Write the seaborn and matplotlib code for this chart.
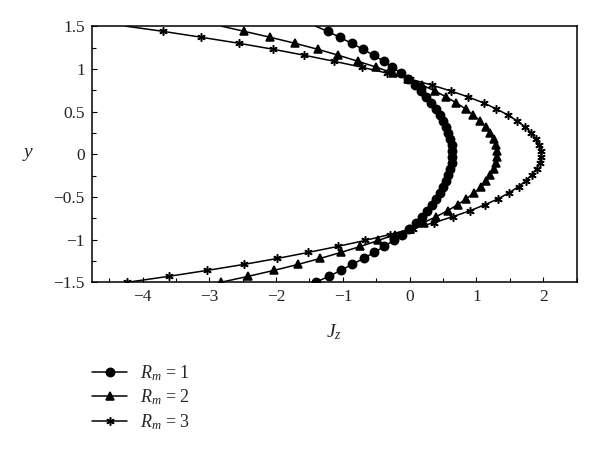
import numpy as np
import pandas as pd
import seaborn as sns
import matplotlib.pyplot as plt
from matplotlib.ticker import MultipleLocator

# valores (y de -1.5 a 1.5)
y_vals = [-1.50, -1.43, -1.36, -1.29, -1.22, -1.15, -1.08, -1.01, -0.94, -0.87,
          -0.80, -0.73, -0.66, -0.59, -0.52, -0.45, -0.38, -0.31, -0.24, -0.17,
          -0.10, -0.03, 0.04, 0.11, 0.18, 0.25, 0.32, 0.39, 0.46, 0.53,
          0.60, 0.67, 0.74, 0.81, 0.88, 0.95, 1.02, 1.09, 1.16, 1.23,
          1.30, 1.37, 1.44, 1.50]

jz_rm1 = [-1.41, -1.21, -1.03, -0.86, -0.69, -0.53, -0.38, -0.24, -0.12, -0.01,
          0.09, 0.18, 0.26, 0.33, 0.39, 0.45, 0.50, 0.55, 0.58, 0.61,
          0.63, 0.64, 0.64, 0.63, 0.61, 0.58, 0.54, 0.50, 0.45, 0.39,
          0.32, 0.25, 0.17, 0.08, -0.02, -0.13, -0.26, -0.39, -0.54, -0.70,
          -0.87, -1.05, -1.23, -1.41]

jz_rm2 = [-2.83, -2.42, -2.03, -1.67, -1.34, -1.03, -0.74, -0.47, -0.22, 0.01,
          0.21, 0.40, 0.57, 0.72, 0.85, 0.97, 1.07, 1.15, 1.21, 1.26,
          1.29, 1.31, 1.31, 1.29, 1.26, 1.21, 1.14, 1.06, 0.95, 0.84,
          0.70, 0.55, 0.38, 0.19, -0.02, -0.25, -0.50, -0.78, -1.07, -1.38,
          -1.72, -2.09, -2.48, -2.82]

jz_rm3 = [-4.23, -3.61, -3.03, -2.48, -1.98, -1.52, -1.08, -0.67, -0.30, 0.05,
          0.37, 0.65, 0.91, 1.13, 1.33, 1.49, 1.63, 1.74, 1.83, 1.90,
          1.95, 1.97, 1.97, 1.94, 1.89, 1.82, 1.73, 1.61, 1.47, 1.30,
          1.11, 0.88, 0.62, 0.33, 0.01, -0.34, -0.72, -1.14, -1.58, -2.05,
          -2.56, -3.12, -3.70, -4.25]

series = {'$R_m$ = 1': jz_rm1, '$R_m$ = 2': jz_rm2, '$R_m$ = 3': jz_rm3}
markers = {'$R_m$ = 1': 'o', '$R_m$ = 2': '^', '$R_m$ = 3': (6, 2, 0)}

sns.set_style('ticks')
plt.rcParams['font.family'] = 'Liberation Serif'
plt.rcParams['mathtext.fontset'] = 'custom'
plt.rcParams['mathtext.rm'] = 'Liberation Serif'
plt.rcParams['mathtext.it'] = 'Liberation Serif:italic'

fig = plt.figure(figsize=(6, 4.51), dpi=100)
ax = fig.add_axes([0.153, 0.374, 0.808, 0.568])

for nombre, valores in series.items():
    df = pd.DataFrame({'Jz': valores, 'y': y_vals})
    sns.lineplot(data=df, x='Jz', y='y', orient='y', sort=False, estimator=None,
                 color='k', lw=1.1, marker=markers[nombre], markersize=6,
                 markeredgecolor='k', markeredgewidth=1.1,
                 markevery=slice(0, len(valores) - 1), label=nombre, ax=ax)

ax.set_xlim(-4.76, 2.5)
ax.set_ylim(-1.5, 1.5)
ax.xaxis.set_major_locator(MultipleLocator(1))
ax.xaxis.set_minor_locator(MultipleLocator(0.5))
ax.yaxis.set_major_locator(MultipleLocator(0.5))
ax.yaxis.set_minor_locator(MultipleLocator(0.25))
ax.yaxis.set_major_formatter(plt.FuncFormatter(lambda v, _: f'{v:g}'.replace('-', '\u2212')))
ax.tick_params(which='both', direction='in', top=False, right=False, labelsize=12.5,
               width=0.8, color='k')
ax.tick_params(which='major', length=3.5, pad=5)
ax.tick_params(which='minor', length=3)
for s in ax.spines.values():
    s.set_linewidth(1.1)
    s.set_color('k')

ax.set_xlabel('$J_z$', fontsize=14, labelpad=12)
ax.set_ylabel('$y$', fontsize=14, rotation=0, labelpad=18, va='center')

handles, labels = ax.get_legend_handles_labels()
if ax.get_legend() is not None:
    ax.get_legend().remove()
fig.legend(handles, labels, loc='upper left', bbox_to_anchor=(0.142, 0.21),
           frameon=False, fontsize=13, handlelength=1.9, handletextpad=0.75,
           labelspacing=0.25, borderaxespad=0)

plt.savefig('out.png', dpi=100)
